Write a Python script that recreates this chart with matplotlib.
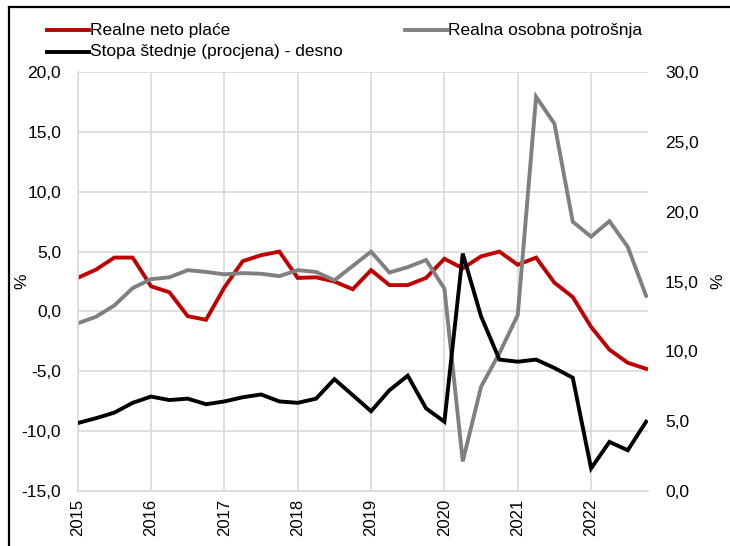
import matplotlib
matplotlib.use("Agg")
import matplotlib.pyplot as plt
from matplotlib.lines import Line2D
from matplotlib.ticker import FuncFormatter

plt.rcParams['font.family'] = ['Liberation Sans', 'DejaVu Sans']

# quarterly data, 2015Q1 - 2022Q4
years = ['2015', '2016', '2017', '2018', '2019', '2020', '2021', '2022']

wages = [2.8, 3.5, 4.5, 4.5, 2.1, 1.6, -0.4, -0.7,
         2.0, 4.2, 4.7, 5.0, 2.8, 2.85, 2.5, 1.85,
         3.45, 2.2, 2.2, 2.8, 4.4, 3.6, 4.6, 5.0,
         3.9, 4.5, 2.4, 1.2, -1.3, -3.2, -4.3, -4.8]

consumption = [-1.0, -0.45, 0.5, 1.95, 2.7, 2.85, 3.45, 3.3,
               3.1, 3.2, 3.15, 2.95, 3.45, 3.3, 2.6, 3.8,
               5.0, 3.25, 3.7, 4.3, 1.9, -12.55, -6.3, -3.5,
               -0.3, 17.95, 15.7, 7.5, 6.25, 7.55, 5.4, 1.3]

saving = [4.85, 5.2, 5.6, 6.3, 6.75, 6.5, 6.6, 6.2,
          6.4, 6.7, 6.9, 6.4, 6.3, 6.6, 8.0, 6.85,
          5.7, 7.2, 8.25, 5.9, 4.95, 17.0, 12.5, 9.4,
          9.25, 9.4, 8.8, 8.1, 1.6, 3.5, 2.9, 4.95]

labels = ['Realne neto plaće', 'Realna osobna potrošnja',
          'Stopa štednje (procjena) - desno']

RED = '#C00000'
GREY = '#808080'
GRID = '#d9d9d9'

W, H = 730, 546
fig = plt.figure(figsize=(W / 100, H / 100), dpi=100)

x0, x1, y0, y1 = 77.7, 648.3, 72.3, 490.7
ax = fig.add_axes([x0 / W, 1 - y1 / H, (x1 - x0) / W, (y1 - y0) / H])

xs = list(range(len(wages)))
ax.plot(xs, wages, color=RED, lw=2.8, solid_joinstyle='miter')
ax.plot(xs, consumption, color=GREY, lw=2.8, solid_joinstyle='miter')

fmt = FuncFormatter(lambda v, p: f"{v:.1f}".replace('.', ','))

ax.set_xlim(0, 31.12)
ax.set_ylim(-15, 20)
ax.set_yticks(range(-15, 21, 5))
ax.yaxis.set_major_formatter(fmt)
ax.set_xticks(range(0, 32, 4))
ax.set_xticklabels(years, rotation=90)
ax.grid(True, color=GRID, lw=1.2)
ax.set_axisbelow(True)
ax.tick_params(length=0, colors='#000000')
ax.tick_params(axis='y', pad=12, labelsize=12.5)
ax.tick_params(axis='x', pad=6, labelsize=12)
for s in ['top', 'right']:
    ax.spines[s].set_visible(False)
for s in ['left', 'bottom']:
    ax.spines[s].set_color(GRID)
    ax.spines[s].set_linewidth(1.2)
ax.set_ylabel('%', fontsize=12.5, labelpad=-6)

ax2 = ax.twinx()
ax2.plot(xs, saving, color='black', lw=2.8, solid_joinstyle='miter')
ax2.set_ylim(0, 30)
ax2.set_yticks(range(0, 31, 5))
ax2.yaxis.set_major_formatter(fmt)
ax2.tick_params(length=0, labelsize=12.5, pad=12)
for s in ax2.spines.values():
    s.set_visible(False)
ax2.set_ylabel('%', fontsize=12.5, labelpad=8)

# legend drawn by hand, Excel style
entries = [(labels[0], RED, 46.7, 30), (labels[1], GREY, 405, 30),
           (labels[2], 'black', 46.7, 51.7)]
for text, col, lx, ly in entries:
    fig.add_artist(Line2D([lx / W, (lx + 42) / W], [1 - ly / H, 1 - ly / H],
                          color=col, lw=2.8, transform=fig.transFigure))
    fig.text((lx + 43) / W, 1 - ly / H, text, fontsize=12.5, va='center', ha='left')

# outer frame, only top and left are inside the picture
fig.add_artist(Line2D([8.5 / W, 8.5 / W], [0, 1 - 7 / H], color='black', lw=1.6,
                      transform=fig.transFigure))
fig.add_artist(Line2D([8.5 / W, 1], [1 - 7 / H, 1 - 7 / H], color='black', lw=1.6,
                      transform=fig.transFigure))

fig.savefig('out.png', dpi=100)
